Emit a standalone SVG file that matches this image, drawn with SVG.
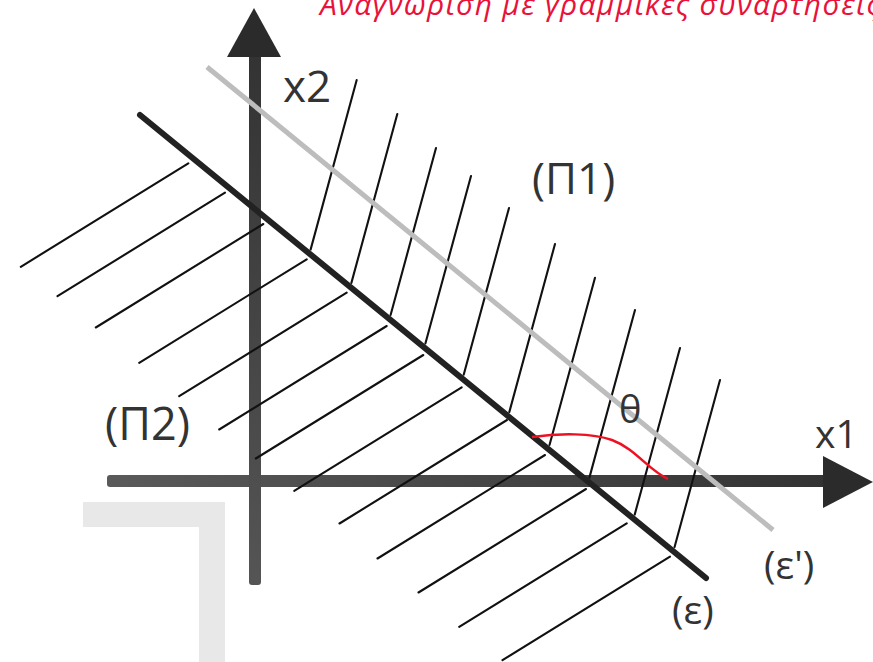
<svg xmlns="http://www.w3.org/2000/svg" width="873" height="662" viewBox="0 0 873 662">
<defs>
<style>
.lbl{font-family:"Open Sans","Liberation Sans",sans-serif;fill:#333;}
.hatch line{stroke:#111;stroke-width:2.1;stroke-linecap:round;}
.title{font-family:"Open Sans","Liberation Sans",sans-serif;font-style:italic;fill:#e8123a;font-size:30px;}
</style>
<linearGradient id="gh" x1="0" y1="0" x2="1" y2="0">
<stop offset="0" stop-color="#5a5a5a"/><stop offset="1" stop-color="#333"/>
</linearGradient>
<linearGradient id="gv" x1="0" y1="1" x2="0" y2="0">
<stop offset="0" stop-color="#555"/><stop offset="1" stop-color="#333"/>
</linearGradient>
</defs>
<rect width="873" height="662" fill="#fff"/>
<path d="M83 502 H225 V662 H199 V527 H83 Z" fill="#e8e8e8"/>
<text class="title" x="320" y="15" textLength="560">Αναγνώριση με γραμμικές συναρτήσεις</text>
<g id="axis-x1">
<rect x="107" y="475" width="720" height="12" rx="3" fill="url(#gh)"/>
<polygon points="823,456 873,482 823,508" fill="#2b2b2b"/>
</g>
<g id="axis-x2">
<rect x="249" y="52" width="12" height="533" rx="3" fill="url(#gv)"/>
<polygon points="227,57 254,8 281,57" fill="#2b2b2b"/>
</g>
<g id="connectors" class="hatch">
<line x1="356.7" y1="80" x2="310.6" y2="249.6"/>
<line x1="397.3" y1="114" x2="351.4" y2="282.9"/>
<line x1="436" y1="148" x2="390.6" y2="315"/>
<line x1="471" y1="176" x2="425.4" y2="343.5"/>
<line x1="509" y1="208" x2="463.7" y2="374.7"/>
<line x1="555" y1="244" x2="509.3" y2="412.1"/>
<line x1="595" y1="277.7" x2="549.5" y2="445"/>
<line x1="635" y1="310" x2="589.4" y2="477.6"/>
<line x1="680" y1="348" x2="634.7" y2="514.6"/>
<line x1="720" y1="380" x2="674.5" y2="547.2"/>
<line x1="188.3" y1="163.3" x2="20.8" y2="266.8"/>
<line x1="225" y1="192.7" x2="57.5" y2="296.2"/>
<line x1="263.3" y1="224" x2="95.8" y2="327.5"/>
<line x1="306.7" y1="259.3" x2="139.2" y2="362.8"/>
<line x1="346.7" y1="292.7" x2="179.2" y2="396.2"/>
<line x1="386.7" y1="326" x2="219.2" y2="429.5"/>
<line x1="423.3" y1="355" x2="255.8" y2="458.5"/>
<line x1="461.7" y1="387.3" x2="294.2" y2="490.8"/>
<line x1="507" y1="420" x2="339.5" y2="523.5"/>
<line x1="545" y1="455" x2="377.5" y2="558.5"/>
<line x1="586" y1="489" x2="418.5" y2="592.5"/>
<line x1="626.7" y1="523.3" x2="459.2" y2="626.8"/>
<line x1="670" y1="556.7" x2="502.5" y2="660.2"/>
</g>
<g id="line-e">
<line x1="140" y1="115" x2="706" y2="578" stroke="#222" stroke-width="6" stroke-linecap="round"/>
</g>
<g id="line-e-prime">
<line x1="207" y1="67" x2="773" y2="530" stroke="#bdbdbd" stroke-width="5"/>
</g>
<g id="angle-theta">
<path d="M532 437 C560 433 592 433 612 440 C636 449 648 470 668 479" fill="none" stroke="#ee1122" stroke-width="2.5"/>
</g>
<g id="labels">
<text class="lbl" x="283" y="102" font-size="44">x2</text>
<text class="lbl" x="532" y="194" font-size="44">(Π1)</text>
<text class="lbl" x="105" y="440" font-size="45">(Π2)</text>
<text class="lbl" x="619" y="423" font-size="38">θ</text>
<text class="lbl" x="815" y="448" font-size="39">x1</text>
<text class="lbl" x="764" y="579" font-size="39">(ε')</text>
<text class="lbl" x="672" y="624" font-size="39">(ε)</text>
</g>
</svg>
